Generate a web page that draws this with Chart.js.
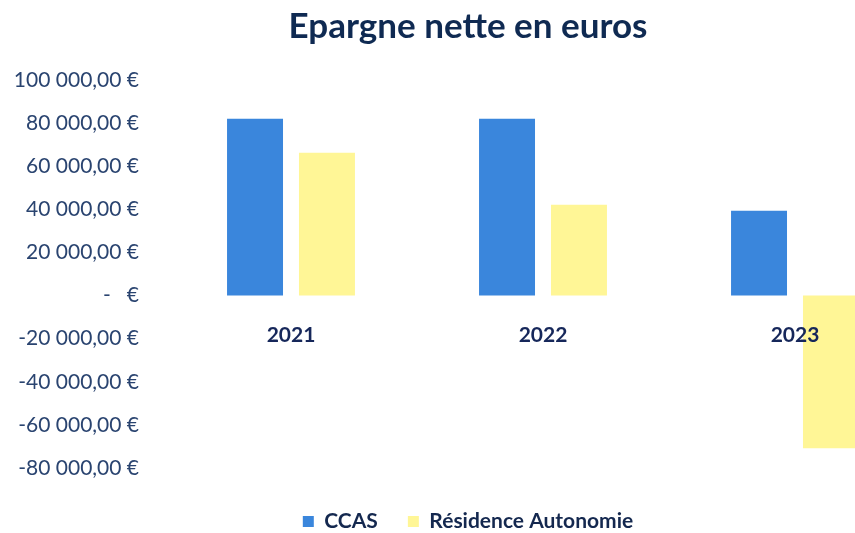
<!DOCTYPE html>
<html lang="fr">
<head>
  <meta charset="UTF-8" />
  <title>Epargne nette en euros</title>
  <script src="https://cdn.jsdelivr.net/npm/chart.js"></script>
  <style>
    body { margin: 0; overflow: hidden; background: #fff; }
    #wrap { width: 936px; height: 533px; }
  </style>
</head>
<body>
  <div id="wrap">
    <canvas id="graphique" width="936" height="533"></canvas>
  </div>

  <script>
    // données
    const annees = ['2021', '2022', '2023'];
    const ccas = [82000, 82000, 39300];
    const residence = [66200, 42100, -70800];
    const axeMin = -80000;
    const axeMax = 100000;
    const pas = 20000;

    function formatEuro(v) {
      if (v === 0) return '-   €';
      const signe = v < 0 ? '-' : '';
      const n = Math.abs(v).toFixed(0).replace(/\B(?=(\d{3})+(?!\d))/g, ' ');
      return signe + n + ',00 €';
    }

    const ctx = document.getElementById('graphique').getContext('2d');
    new Chart(ctx, {
      type: 'bar',
      data: {
        labels: annees,
        datasets: [
          {
            label: 'CCAS',
            data: ccas,
            backgroundColor: '#3a86dc',
            categoryPercentage: 0.571,
            barPercentage: 0.778
          },
          {
            label: 'Résidence Autonomie',
            data: residence,
            backgroundColor: '#fff696',
            categoryPercentage: 0.571,
            barPercentage: 0.778
          }
        ]
      },
      options: {
        responsive: false,
        animation: false,
        layout: { padding: { left: 15, right: 15, top: 0, bottom: -9 } },
        plugins: {
          title: {
            display: true,
            text: 'Epargne nette en euros',
            color: '#0f2a52',
            font: { family: 'Lato', size: 35, weight: 'bold' },
            padding: { top: 6, bottom: 32 }
          },
          legend: {
            position: 'bottom',
            title: { display: true, text: ' ', font: { size: 10 }, padding: { top: 1, bottom: 0 } },
            labels: {
              color: '#14284f',
              font: { family: 'Lato', size: 21, weight: 'bold' },
              boxWidth: 11,
              boxHeight: 11,
              padding: 30
            }
          },
          tooltip: { enabled: false }
        },
        scales: {
          x: {
            position: { y: 0 },
            grid: { display: false },
            border: { display: false },
            ticks: {
              z: 1,
              color: '#16275a',
              font: { family: 'Lato', size: 21, weight: 'bold' },
              padding: 19
            }
          },
          y: {
            min: axeMin,
            max: axeMax,
            grid: { display: false },
            border: { display: false },
            afterFit: s => { s.width = 150; },
            ticks: {
              stepSize: pas,
              color: '#2a4470',
              font: { family: 'Lato', size: 21 },
              padding: 18,
              callback: v => formatEuro(v)
            }
          }
        }
      }
    });
  </script>
</body>
</html>
